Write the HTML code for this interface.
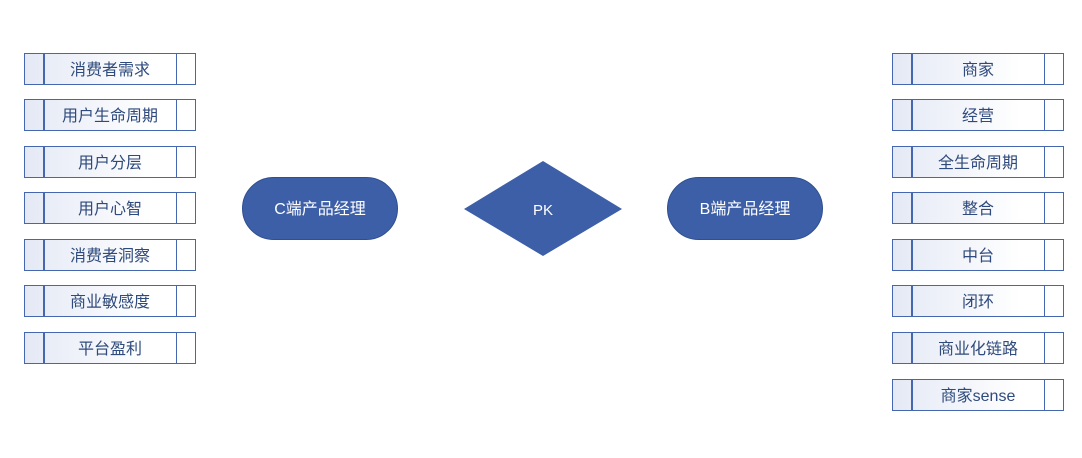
<!DOCTYPE html>
<html><head><meta charset="utf-8"><style>
body{margin:0;width:1082px;height:458px;background:#fff;position:relative;overflow:hidden;font-family:"Liberation Sans","Noto Sans CJK SC",sans-serif}
.b{position:absolute;width:170px;height:30px;border:1.5px solid #4467b0;background:linear-gradient(90deg,#e4e9f5,#ffffff 75%);box-sizing:content-box;color:#2f4a7c;font-size:16px;line-height:34px;text-align:center}
.b:before,.b:after{content:"";position:absolute;top:0;bottom:0;width:1.5px;background:#4467b0}
.b:before{left:18px}.b:after{right:18px}
.L{left:24px}.R{left:892px}
.p{position:absolute;width:156px;height:63px;border-radius:32px;background:#3c5fa8;border:1px solid #2f4f8f;box-sizing:border-box;color:#fff;font-size:16px;line-height:63px;text-align:center}
</style></head><body>
<div class="b L" style="top:53px">消费者需求</div>
<div class="b L" style="top:99px">用户生命周期</div>
<div class="b L" style="top:146px">用户分层</div>
<div class="b L" style="top:192px">用户心智</div>
<div class="b L" style="top:239px">消费者洞察</div>
<div class="b L" style="top:285px">商业敏感度</div>
<div class="b L" style="top:332px">平台盈利</div>
<div class="b R" style="top:53px">商家</div>
<div class="b R" style="top:99px">经营</div>
<div class="b R" style="top:146px">全生命周期</div>
<div class="b R" style="top:192px">整合</div>
<div class="b R" style="top:239px">中台</div>
<div class="b R" style="top:285px">闭环</div>
<div class="b R" style="top:332px">商业化链路</div>
<div class="b R" style="top:379px">商家sense</div>
<div class="p" style="left:242px;top:177px">C端产品经理</div>
<div class="p" style="left:667px;top:177px">B端产品经理</div>
<svg style="position:absolute;left:0;top:0" width="1082" height="458"><polygon points="543,161 622,209 543,256 464,209" fill="#3c5fa8"/><text x="543" y="215" fill="#fff" font-size="15" text-anchor="middle" font-family="Liberation Sans, sans-serif">PK</text></svg>
</body></html>
